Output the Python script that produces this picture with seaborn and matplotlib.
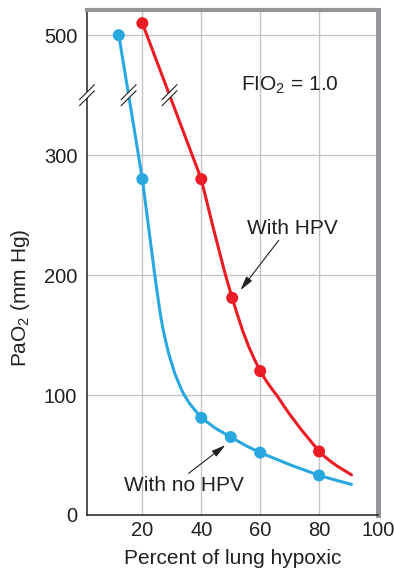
import numpy as np
import pandas as pd
import matplotlib
matplotlib.use("Agg")
from matplotlib import pyplot as plt
from matplotlib.patches import Polygon
from matplotlib.transforms import ScaledTranslation
import seaborn as sns

sns.set_theme(style="white")
plt.rcParams["font.family"] = ["Liberation Sans", "DejaVu Sans"]
plt.rcParams["mathtext.fontset"] = "custom"
plt.rcParams["mathtext.rm"] = "Liberation Sans"

# values: x = percent of lung hypoxic, y = PaO2 (mm Hg)
no_hpv_pts_x = [12, 20, 40, 50, 60, 80]
no_hpv_pts_y = [500, 280, 81, 65, 52, 33]
hpv_pts_x = [20, 40, 50.5, 60, 80]
hpv_pts_y = [510, 280, 181, 120, 53]

no_hpv_curve_x = [12, 20, 21, 22, 23, 24, 25, 26, 27, 28, 29, 30, 31, 32, 33, 34, 35, 36,
                  37, 38, 39, 40, 45, 50, 55, 60, 65, 70, 75, 80, 85, 91]
no_hpv_curve_y = [500, 280, 261, 242, 223, 204, 186, 169, 155, 144, 134, 126, 118, 112, 106, 101, 97, 93,
                  90, 87, 84, 81, 72, 65, 58, 52, 47, 42, 37.5, 33, 29.5, 25.5]
hpv_curve_x = [20, 40, 42, 44, 46, 48, 50, 52, 54, 56, 58, 60, 62, 64, 66, 68, 70,
               72, 74, 76, 78, 80, 82, 84, 86, 88, 91]
hpv_curve_y = [510, 280, 260, 240, 221, 202, 185, 169, 154, 141, 130, 120, 112, 105, 98.5, 91, 84,
               77.5, 71, 65, 59, 53, 48.5, 44.5, 41, 38, 33.5]

x_ticks = [20, 40, 60, 80, 100]
y_ticks = [0, 100, 200, 300, 500]

BLUE = "#29a8e0"
RED = "#ec1c24"
INK = "#231f20"
FRAME = "#939598"
BREAK_AT = 300   # axis is cut above 300; 400..500 is drawn right after it


def squash(v):
    # broken axis: values above the break are moved down by 100
    v = np.asarray(v, dtype=float)
    return np.where(v > BREAK_AT, v - 100, v)


curves = pd.concat([
    pd.DataFrame({"x": no_hpv_curve_x, "y": squash(no_hpv_curve_y), "series": "no HPV"}),
    pd.DataFrame({"x": hpv_curve_x, "y": squash(hpv_curve_y), "series": "HPV"}),
])
points = pd.concat([
    pd.DataFrame({"x": no_hpv_pts_x, "y": squash(no_hpv_pts_y), "series": "no HPV"}),
    pd.DataFrame({"x": hpv_pts_x, "y": squash(hpv_pts_y), "series": "HPV"}),
])
palette = {"no HPV": BLUE, "HPV": RED}

fig = plt.figure(figsize=(3.94, 5.70), dpi=100)
ax = fig.add_axes([87 / 394, 55 / 570, 291 / 394, 505 / 570])

sns.lineplot(data=curves, x="x", y="y", hue="series", palette=palette, sort=False,
             estimator=None, lw=2.2, legend=False, ax=ax, zorder=3)
sns.scatterplot(data=points, x="x", y="y", hue="series", palette=palette, s=75,
                linewidth=0, legend=False, ax=ax, zorder=4)

ax.set_xlim(1.2, 100)
ax.set_ylim(0, 421)
ax.set_xticks(x_ticks)
ax.set_xticklabels([str(t) for t in x_ticks])
ax.set_yticks(squash(y_ticks))
ax.set_yticklabels([str(t) for t in y_ticks])
ax.tick_params(axis="both", length=0, labelsize=14.5, colors=INK)
ax.tick_params(axis="x", pad=4)
ax.tick_params(axis="y", pad=7)
ax.set_xlabel("")
ax.set_ylabel("")

ax.grid(True, color="#c4c4c4", lw=1.0)
ax.set_axisbelow(True)
for side in ["left", "bottom"]:
    ax.spines[side].set_color(INK)
    ax.spines[side].set_linewidth(1.1)
ax.spines["top"].set_color(FRAME)
ax.spines["top"].set_linewidth(3.0)
ax.spines["right"].set_color(FRAME)
ax.spines["right"].set_linewidth(3.6)

ax.text(0.5, -0.097, "Percent of lung hypoxic", transform=ax.transAxes,
        ha="center", va="baseline", fontsize=15, color=INK)
ax.text(-0.23, 0.43, r"PaO$_\mathregular{2}$ (mm Hg)", transform=ax.transAxes,
        rotation=90, ha="center", va="center", fontsize=15, color=INK)

ax.text(53.5, 354, r"FIO$_\mathregular{2}$ = 1.0", ha="left", va="baseline",
        fontsize=15, color=INK)
ax.text(70.9, 234, "With HPV", ha="center", va="baseline", fontsize=15, color=INK)
ax.text(34.1, 20, "With no HPV", ha="center", va="baseline", fontsize=15, color=INK)

arrow = dict(arrowstyle="-|>,head_length=0.7,head_width=0.18", color=INK, lw=0.8,
             shrinkA=0, shrinkB=0)
ax.annotate("", xy=(53.3, 187.5), xytext=(66.3, 229), arrowprops=arrow)
ax.annotate("", xy=(48.2, 58.3), xytext=(35.7, 34.7), arrowprops=arrow)


def break_mark(x, y):
    tr = fig.dpi_scale_trans + ScaledTranslation(x, y, ax.transData)
    w, gap = 0.075, 0.03
    ax.add_patch(Polygon([(-w, -w - gap), (w, w - gap), (w, w + gap), (-w, -w + gap)],
                         closed=True, facecolor="white", edgecolor="none",
                         transform=tr, zorder=7, clip_on=False))
    for d in (-gap, gap):
        ax.plot([-w, w], [-w + d, w + d], color=INK, lw=0.8, transform=tr,
                zorder=8, clip_on=False)


cut = 350  # where the // marks sit on the squashed scale
for cx, cy in [(no_hpv_curve_x, no_hpv_curve_y), (hpv_curve_x, hpv_curve_y)]:
    ys = squash(cy[:2])
    xs = cx[:2]
    xcut = xs[0] + (ys[0] - cut) / (ys[0] - ys[1]) * (xs[1] - xs[0])
    break_mark(xcut, cut)
break_mark(ax.get_xlim()[0], cut)

fig.savefig("out.png", dpi=100)
